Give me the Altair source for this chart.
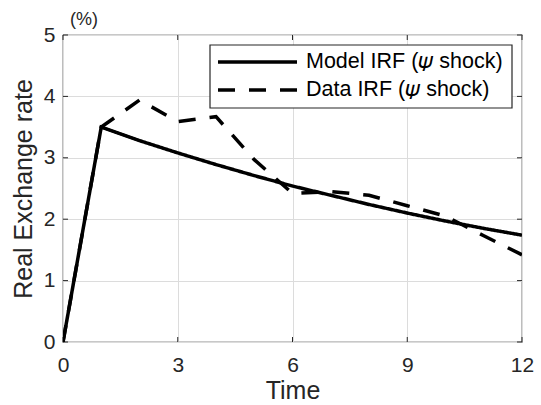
import altair as alt
import pandas as pd

# Impulse responses of the real exchange rate (%), periods 0..12
time = [0, 1, 2, 3, 4, 5, 6, 7, 8, 9, 10, 11, 12]
model_irf = [0.0, 3.50, 3.28, 3.08, 2.89, 2.71, 2.54, 2.39, 2.24, 2.10, 1.97, 1.85, 1.74]
data_irf = [0.0, 3.50, 3.94, 3.59, 3.67, 2.97, 2.42, 2.45, 2.39, 2.22, 2.05, 1.73, 1.42]

series_names = ["Model IRF (\U0001D713 shock)", "Data IRF (\U0001D713 shock)"]
series_dash = [[1, 0], [17, 14]]
x_ticks = [0, 3, 6, 9, 12]
y_ticks = [0, 1, 2, 3, 4, 5]

W, H = 459, 307
FONT = "Liberation Sans"
INK = "#262626"

df = pd.concat([
    pd.DataFrame({"t": time, "v": model_irf, "series": series_names[0]}),
    pd.DataFrame({"t": time, "v": data_irf, "series": series_names[1]}),
])

x_scale = alt.Scale(domain=[0, 12], nice=False, zero=False)
y_scale = alt.Scale(domain=[0, 5], nice=False)
dash_scale = alt.Scale(domain=series_names, range=series_dash)

lines = alt.Chart(df).mark_line(strokeWidth=3.5, color="black", clip=True).encode(
    x=alt.X("t:Q", scale=x_scale, axis=alt.Axis(
        values=x_ticks, title="Time", grid=True, ticks=False, domain=False,
        labelFlush=False, labelFontSize=21, labelPadding=12, format="d",
        titleFontSize=25, titlePadding=3)),
    y=alt.Y("v:Q", scale=y_scale, axis=alt.Axis(
        values=y_ticks, title="Real Exchange rate", grid=True, ticks=False,
        domain=False, labelFlush=False, labelFontSize=21, labelPadding=8,
        format="d", titleFontSize=25, titlePadding=7)),
    strokeDash=alt.StrokeDash("series:N", scale=dash_scale, legend=None),
    detail="series:N",
)

# inward tick marks on all four sides of the box
xt = pd.DataFrame({"t": x_ticks})
yt = pd.DataFrame({"v": y_ticks})
tick_style = dict(color=INK, strokeWidth=1)
bottom_ticks = alt.Chart(xt).mark_rule(**tick_style).encode(
    x=alt.X("t:Q", scale=x_scale), y=alt.value(H), y2=alt.value(H - 5))
top_ticks = alt.Chart(xt).mark_rule(**tick_style).encode(
    x=alt.X("t:Q", scale=x_scale), y=alt.value(0), y2=alt.value(5))
left_ticks = alt.Chart(yt).mark_rule(**tick_style).encode(
    y=alt.Y("v:Q", scale=y_scale), x=alt.value(0), x2=alt.value(5))
right_ticks = alt.Chart(yt).mark_rule(**tick_style).encode(
    y=alt.Y("v:Q", scale=y_scale), x=alt.value(W), x2=alt.value(W - 5))

# legend box in the upper right corner
legend_box = alt.Chart(pd.DataFrame({"k": [0]})).mark_rect(
    fill="white", stroke=INK, strokeWidth=1.2,
).encode(x=alt.value(147), x2=alt.value(449), y=alt.value(10), y2=alt.value(73))

legend_rows = []
for i, (name, dash) in enumerate(zip(series_names, series_dash)):
    row_y = 27 + 28 * i
    legend_rows.append(
        alt.Chart(pd.DataFrame({"s": [name]})).mark_rule(
            color="black", strokeWidth=3.5, strokeDash=dash,
        ).encode(x=alt.value(155), x2=alt.value(234), y=alt.value(row_y))
    )
    legend_rows.append(
        alt.Chart(pd.DataFrame({"s": [name]})).mark_text(
            align="left", baseline="middle", fontSize=21.5, font=FONT, color="black",
        ).encode(text="s:N", x=alt.value(243), y=alt.value(row_y))
    )

unit = alt.Chart(pd.DataFrame({"u": ["(%)"]})).mark_text(
    align="left", baseline="middle", fontSize=18, font=FONT, color=INK,
).encode(text="u:N", x=alt.value(7), y=alt.value(-15))

chart = alt.layer(
    bottom_ticks, top_ticks, left_ticks, right_ticks, lines,
    legend_box, *legend_rows, unit
).properties(
    width=W, height=H,
    autosize=alt.AutoSizeParams(type="none"),
    padding={"left": 63, "top": 35, "right": 19, "bottom": 63},
).configure(
    font=FONT, background="white",
).configure_view(
    stroke=INK, strokeWidth=1.2,
).configure_axis(
    gridColor="#dcdcdc", gridWidth=1, labelColor=INK, titleColor=INK,
    labelFont=FONT, titleFont=FONT, titleFontWeight="normal",
)

chart.save("out.html", embed_options={"renderer": "svg", "actions": False})
